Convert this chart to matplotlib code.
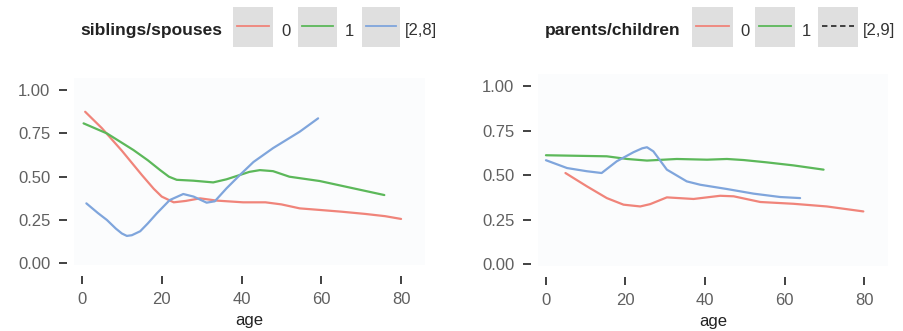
import matplotlib
matplotlib.use("Agg")
import matplotlib.pyplot as plt
from matplotlib.patches import Rectangle
from matplotlib.lines import Line2D

plt.rcParams['font.family'] = ['Liberation Sans', 'DejaVu Sans']

# survival rate by age, siblings/spouses aboard
sib_0_age = [0.8, 5, 10, 15, 18, 20, 23, 26, 29.6, 33.75, 40.4, 46, 50, 54.6, 59.6, 65, 71, 76, 80]
sib_0 = [0.875, 0.78, 0.65, 0.51, 0.43, 0.385, 0.352, 0.36, 0.375, 0.362, 0.352, 0.352, 0.34, 0.317, 0.308, 0.298, 0.285, 0.272, 0.256]
sib_1_age = [0.4, 6.25, 12.9, 16.5, 19.6, 21.8, 23.75, 27.9, 32.9, 36.25, 39.6, 42, 44.6, 47.9, 52, 59.6, 68, 75.8]
sib_1 = [0.808, 0.75, 0.654, 0.595, 0.538, 0.5, 0.482, 0.477, 0.467, 0.485, 0.51, 0.528, 0.538, 0.532, 0.5, 0.475, 0.433, 0.394]
sib_2_age = [1.1, 4, 6.25, 8.5, 10, 11.25, 12.5, 14.6, 16.5, 18.75, 22, 25.4, 28, 31.25, 33.3, 36.25, 39.6, 43, 47.9, 54.6, 59.2]
sib_2 = [0.346, 0.29, 0.25, 0.2, 0.172, 0.158, 0.162, 0.185, 0.23, 0.288, 0.365, 0.4, 0.385, 0.35, 0.358, 0.433, 0.51, 0.585, 0.665, 0.76, 0.837]

# survival rate by age, parents/children aboard
par_0_age = [4.9, 10.3, 15.3, 19.5, 23.7, 26.2, 30.4, 37.1, 43.8, 47.2, 53.9, 62.2, 70.6, 79.8]
par_0 = [0.513, 0.438, 0.372, 0.335, 0.325, 0.338, 0.376, 0.367, 0.385, 0.382, 0.35, 0.34, 0.325, 0.297]
par_1_age = [0, 15.3, 20.4, 25.4, 32.9, 40.5, 45.5, 49.7, 55.5, 62.2, 69.8]
par_1 = [0.613, 0.607, 0.592, 0.583, 0.592, 0.588, 0.592, 0.586, 0.573, 0.556, 0.532]
par_2_age = [0, 5.3, 10.3, 14, 17.8, 22, 24.2, 25.4, 27, 30.4, 35.4, 38.8, 45.5, 52.2, 58.9, 63.9]
par_2 = [0.585, 0.541, 0.523, 0.513, 0.579, 0.63, 0.652, 0.658, 0.635, 0.532, 0.466, 0.447, 0.423, 0.397, 0.378, 0.372]

x_ticks = [0, 20, 40, 60, 80]
y_ticks = [0.0, 0.25, 0.5, 0.75, 1.0]
y_labels = ["0.00", "0.25", "0.50", "0.75", "1.00"]

red = "#f0847a"
green = "#5cb85a"
blue = "#7fa5dc"

W, H = 904, 331
fig = plt.figure(figsize=(W / 100, H / 100), dpi=100)


def box(l, t, r, b):
    return [l / W, 1 - b / H, (r - l) / W, (b - t) / H]


def panel(rect, series):
    ax = fig.add_axes(rect)
    ax.set_facecolor("#fbfcfd")
    for ages, vals, c in series:
        ax.plot(ages, vals, color=c, lw=1.6, solid_joinstyle="round", solid_capstyle="round")
    ax.set_xlim(-2, 86)
    ax.set_ylim(-0.01, 1.07)
    for s in ax.spines.values():
        s.set_visible(False)
    ax.spines["left"].set_position(("outward", 5))
    ax.spines["bottom"].set_position(("outward", 8))
    ax.set_xticks(x_ticks)
    ax.set_yticks(y_ticks)
    ax.set_yticklabels(y_labels)
    ax.tick_params(axis="y", length=6, width=1.3, color="#333333", pad=6,
                   labelsize=12, labelcolor="#606060")
    ax.tick_params(axis="x", length=5.5, width=1.3, color="#333333", pad=6,
                   labelsize=12, labelcolor="#606060")
    ax.set_xlabel("age", fontsize=12, color="#222222", labelpad=4)
    return ax


panel(box(74, 78, 425, 265), [(sib_0_age, sib_0, red), (sib_1_age, sib_1, green), (sib_2_age, sib_2, blue)])
panel(box(538, 74, 888, 266), [(par_0_age, par_0, red), (par_1_age, par_1, green), (par_2_age, par_2, blue)])


# legends on top, drawn in pixel positions
def key(l, r, color, ls="-"):
    fig.patches.append(Rectangle((l / W, 1 - 47 / H), (r - l) / W, 40 / H,
                                 transform=fig.transFigure, facecolor="#dfdfdf",
                                 edgecolor="none"))
    fig.lines.append(Line2D([(l + 4) / W, (r - 4) / W], [1 - 26 / H, 1 - 26 / H],
                            transform=fig.transFigure, color=color, lw=1.3, ls=ls))


def label(x, s, **kw):
    fig.text(x / W, 1 - 31 / H, s, fontsize=12, color="#333333", va="center", **kw)


fig.text(80 / W, 1 - 31 / H, "siblings/spouses", fontsize=12.5, fontweight="bold",
         color="#222222", va="center")
key(233, 273, red)
label(281, "0")
key(298, 337, green)
label(345, "1")
key(362, 400, blue)
label(405, "[2,8]")

fig.text(545 / W, 1 - 31 / H, "parents/children", fontsize=12.5, fontweight="bold",
         color="#222222", va="center")
key(692, 733, red)
label(740, "0")
key(755, 795, green)
label(802, "1")
key(818, 858, "#333333", ls=(0, (3, 2)))
label(863, "[2,9]")

fig.savefig("out.png", dpi=100)
